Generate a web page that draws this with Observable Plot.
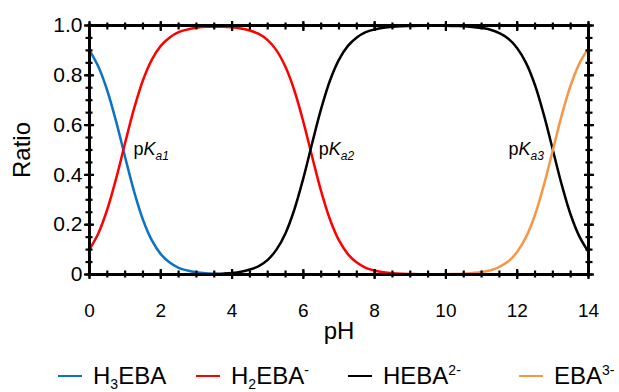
<!DOCTYPE html>
<html><head><meta charset="utf-8">
<script src="https://cdn.jsdelivr.net/npm/d3@7"></script>
<script src="https://cdn.jsdelivr.net/npm/@observablehq/plot@0.6"></script>
<style>
body{margin:0;background:#fff;font-family:Arial,"Liberation Sans",sans-serif;}
#wrap{position:relative;width:619px;height:392px;overflow:hidden;}
#legend{position:absolute;left:0;top:362px;width:619px;height:28px;font-size:24px;color:#000;}
.item{position:absolute;top:0;height:28px;display:flex;align-items:center;white-space:nowrap;}
.sw{display:inline-block;width:24px;height:2.5px;margin-right:11px;}
.item sub{font-size:14px;position:relative;top:5px;vertical-align:baseline;}
.item sup{font-size:14px;position:relative;top:-9px;vertical-align:baseline;}
</style></head><body>
<div id="wrap"><div id="chart"></div><div id="legend"></div></div>
<script>
// pH grid (x values)
const pH = [0,0.25,0.5,0.75,1,1.25,1.5,1.75,2,2.25,2.5,2.75,3,3.25,3.5,3.75,4,4.25,4.5,4.75,5,5.25,5.5,5.75,6,6.25,6.5,6.75,7,7.25,7.5,7.75,8,8.25,8.5,8.75,9,9.25,9.5,9.75,10,10.25,10.5,10.75,11,11.25,11.5,11.75,12,12.25,12.5,12.75,13,13.25,13.5,13.75,14];

// Species ratios (null = not drawn)
const H3EBA = [0.900,0.834,0.738,0.613,0.471,0.334,0.220,0.137,0.082,0.048,0.027,0.016,0.009,0.005,0.003,0.002,0.001,
  null,null,null,null,null,null,null,null,null,null,
  null,null,null,null,null,null,null,null,null,null,
  null,null,null,null,null,null,null,null,null,null,
  null,null,null,null,null,null,null,null,null,null];
const H2EBA = [0.101,0.166,0.262,0.387,0.529,0.666,0.780,0.863,0.918,0.952,0.973,0.984,0.991,0.995,0.995,0.995,0.993,0.988,0.980,0.966,
  0.941,0.899,0.833,0.738,0.613,0.471,0.334,0.220,0.137,0.082,0.048,0.027,0.016,0.009,0.005,0.003,0.002,0.001,0.0005,0.0003,0.0002,
  null,null,null,null,null,null,null,null,null,null,null,null,null,null,null,null];
const HEBA = [null,null,null,null,null,null,null,null,null,null,null,null,null,null,
  0.002,0.0035,0.006,0.011,0.020,0.034,0.059,0.101,0.166,0.262,0.387,0.529,0.666,0.780,0.863,0.918,0.952,0.973,0.984,0.991,0.995,0.997,
  0.998,0.999,0.999,0.999,0.999,0.998,0.997,0.994,0.990,0.983,0.969,0.947,0.909,0.849,0.760,0.640,0.500,0.360,0.240,0.151,0.091];
const EBA = [null,null,null,null,null,null,null,null,null,null,
  null,null,null,null,null,null,null,null,null,null,
  null,null,null,null,null,null,null,null,null,null,
  null,null,null,null,null,null,null,null,null,null,
  0.001,0.002,0.003,0.006,0.010,0.017,0.031,0.053,0.091,0.151,0.240,0.360,0.500,0.640,0.760,0.849,0.909];

const seriesNames = ["H3EBA","H2EBA-","HEBA2-","EBA3-"];
const seriesValues = [H3EBA, H2EBA, HEBA, EBA];
const seriesColors = ["#0A74C2","#FF0000","#000000","#F79646"];
const legendHTML = ["H<sub>3</sub>EBA","H<sub>2</sub>EBA<sup>-</sup>","HEBA<sup>2-</sup>","EBA<sup>3-</sup>"];

// pKa crossing points and their labels
const pKaPH = [0.98, 6.18, 13.0];
const pKaRatio = [0.5, 0.5, 0.5];
const pKaLabels = ["pKa1","pKa2","pKa3"];

// tick values
const xMajor = [0,2,4,6,8,10,12,14];
const xMinor = [0,0.5,1,1.5,2,2.5,3,3.5,4,4.5,5,5.5,6,6.5,7,7.5,8,8.5,9,9.5,10,10.5,11,11.5,12,12.5,13,13.5,14];
const yMajor = [0,0.2,0.4,0.6,0.8,1.0];
const yMinor = [0,0.05,0.1,0.15,0.2,0.25,0.3,0.35,0.4,0.45,0.5,0.55,0.6,0.65,0.7,0.75,0.8,0.85,0.9,0.95,1.0];

const rows = seriesNames.map((name, s) => pH.map((x, i) => ({name, x, y: seriesValues[s][i]})));
const labelRows = pKaLabels.map((t, i) => ({t, x: pKaPH[i], y: pKaRatio[i]}));

const blank = () => "";
const tickMarks = [];
for (const [vals, half] of [[xMinor, 3.5], [xMajor, 5]]) {
  tickMarks.push(Plot.axisX({anchor: "bottom", ticks: vals, tickSize: 2 * half, dy: -half, tickFormat: blank, label: null, stroke: "black", strokeWidth: 2.2}));
  tickMarks.push(Plot.axisX({anchor: "top", ticks: vals, tickSize: 2 * half, dy: half, tickFormat: blank, label: null, stroke: "black", strokeWidth: 2.2}));
}
for (const [vals, half] of [[yMinor, 3.5], [yMajor, 5]]) {
  tickMarks.push(Plot.axisY({anchor: "left", ticks: vals, tickSize: 2 * half, dx: half, tickFormat: blank, label: null, stroke: "black", strokeWidth: 2.2}));
  tickMarks.push(Plot.axisY({anchor: "right", ticks: vals, tickSize: 2 * half, dx: -half, tickFormat: blank, label: null, stroke: "black", strokeWidth: 2.2}));
}

const chart = Plot.plot({
  width: 619, height: 350,
  marginLeft: 89, marginRight: 31, marginTop: 25, marginBottom: 76,
  style: {fontFamily: "Arial, 'Liberation Sans', sans-serif", background: "white", color: "black", overflow: "visible"},
  x: {domain: [0, 14]},
  y: {domain: [0, 1]},
  marks: [
    ...rows.map((r, s) => Plot.line(r, {x: "x", y: "y", stroke: seriesColors[s], strokeWidth: 2.5, curve: "catmull-rom"})),
    Plot.text(labelRows.slice(0, 2), {x: "x", y: "y", text: "t", textAnchor: "start", dx: 9, dy: -1, fontSize: 18, lineAnchor: "middle"}),
    Plot.text(labelRows.slice(2), {x: "x", y: "y", text: "t", textAnchor: "end", dx: -9, dy: -1, fontSize: 18, lineAnchor: "middle"}),
    Plot.frame({stroke: "black", strokeWidth: 3}),
    ...tickMarks,
    Plot.axisX({ticks: xMajor, tickSize: 0, tickPadding: 29, fontSize: 19, tickFormat: d => String(d), label: null}),
    Plot.axisY({ticks: yMajor, tickSize: 0, tickPadding: 7, fontSize: 21, tickFormat: d => d === 0 ? "0" : d.toFixed(1), label: null}),
    Plot.text(["pH"], {frameAnchor: "bottom", dy: 57, fontSize: 24, textAnchor: "middle", lineAnchor: "middle"}),
    Plot.text(["Ratio"], {frameAnchor: "left", dx: -67, rotate: -90, fontSize: 24, textAnchor: "middle", lineAnchor: "middle"})
  ]
});

// rich text for pKa labels
d3.select(chart).selectAll("text").each(function() {
  const t = this.textContent;
  if (/^pKa\d$/.test(t)) {
    const el = d3.select(this);
    el.text("");
    el.append("tspan").text("p");
    el.append("tspan").attr("font-style", "italic").text("K");
    el.append("tspan").attr("font-style", "italic").attr("font-size", 12).attr("dy", 5).text("a" + t.slice(3));
  }
});
document.getElementById("chart").appendChild(chart);

// legend
const legendLeft = [58, 196, 348, 519];
const legend = document.getElementById("legend");
seriesNames.forEach((n, i) => {
  const it = document.createElement("div");
  it.className = "item";
  it.style.left = legendLeft[i] + "px";
  it.innerHTML = `<span class="sw" style="background:${seriesColors[i]}"></span><span>${legendHTML[i]}</span>`;
  legend.appendChild(it);
});
</script>
</body></html>
